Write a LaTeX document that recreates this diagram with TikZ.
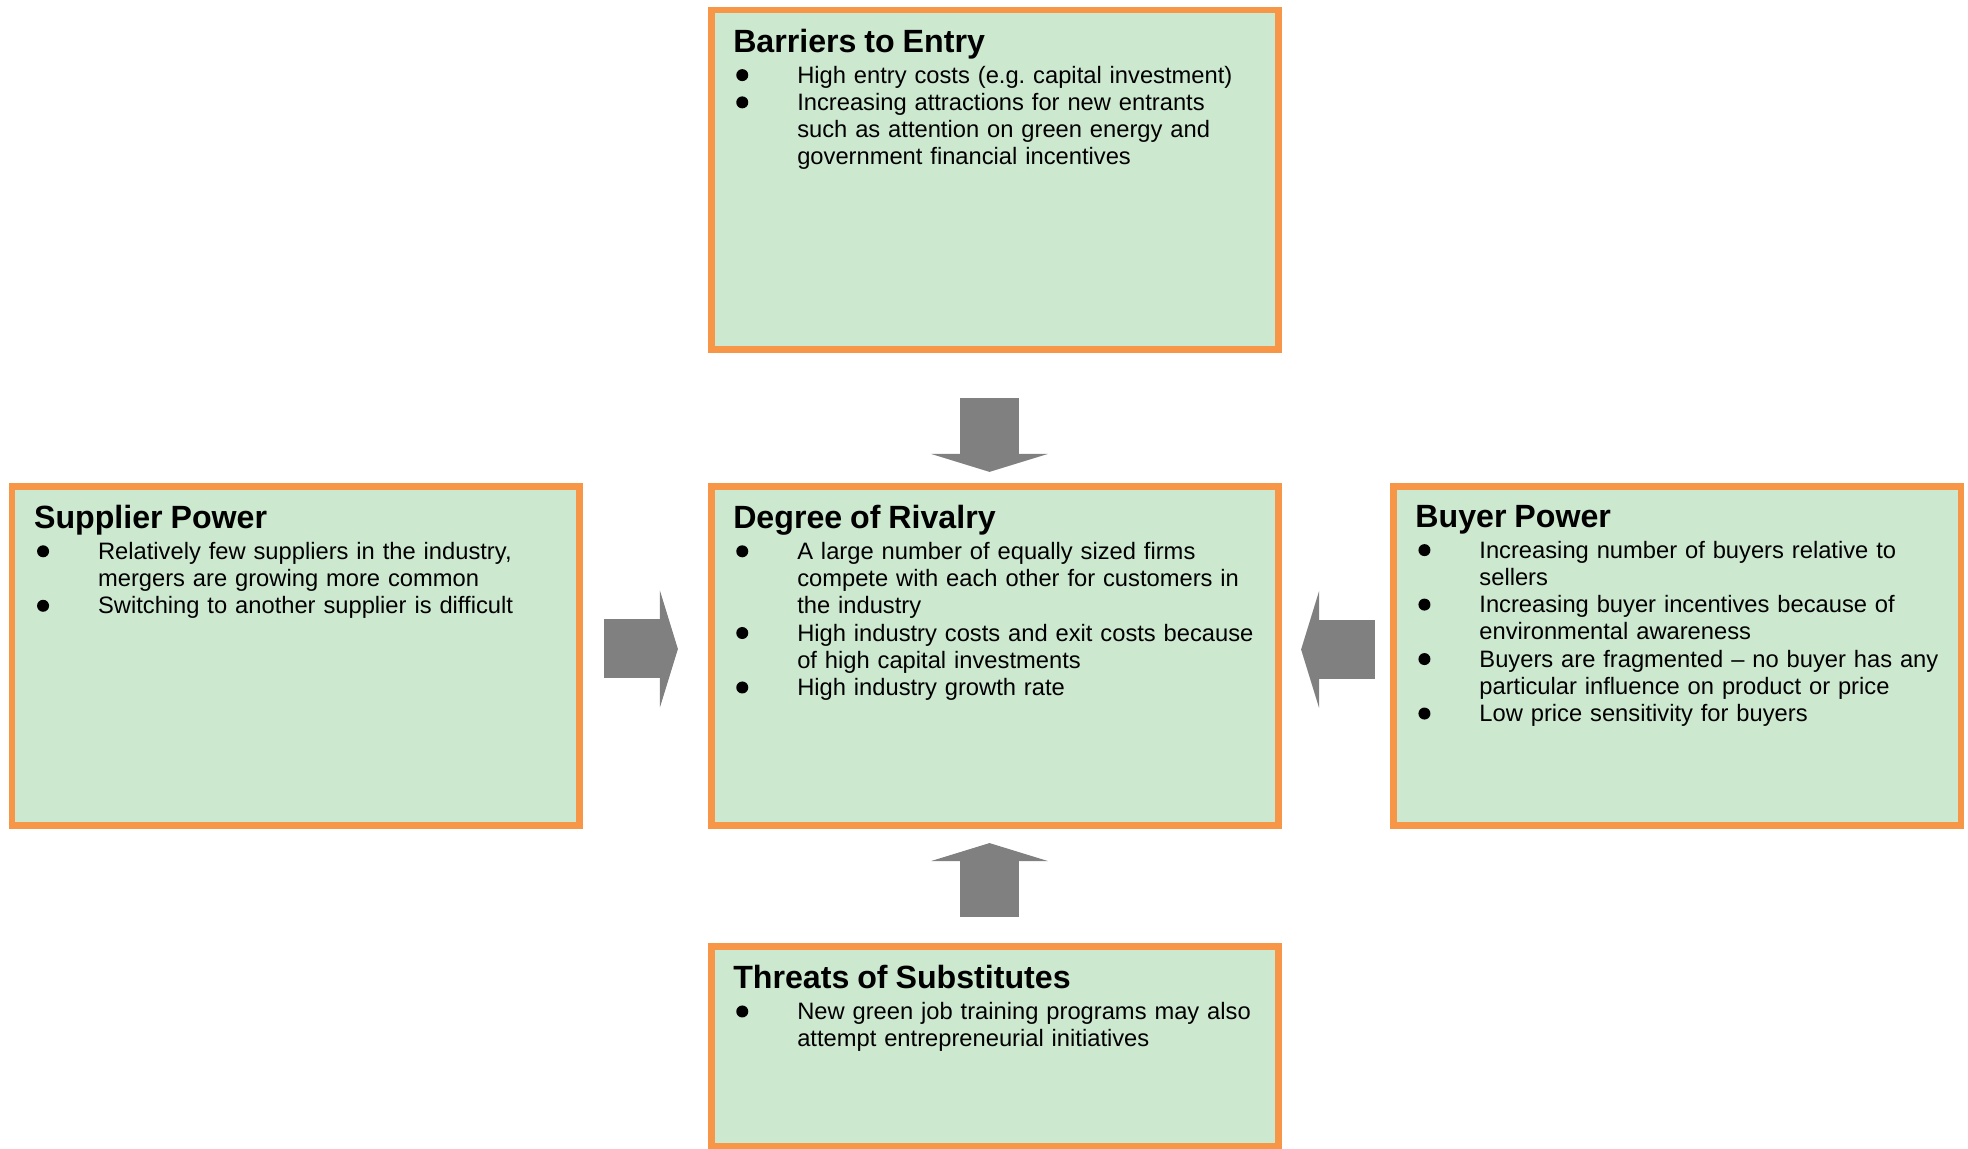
\documentclass[tikz,border=0pt]{standalone}
\usepackage{fontspec}
\setmainfont{Liberation Sans}
\usetikzlibrary{%
  arrows.meta,%
  positioning,% wg. " of "
  calc%
}
\definecolor{boxorange}{HTML}{F79646}
\definecolor{boxgreen}{HTML}{CCE8CF}
\definecolor{arrowgray}{HTML}{808080}
\newlength{\bulind}
\setlength{\bulind}{1.28cm}
\newcommand{\bigdot}{\tikz[baseline=0pt]\fill[black] (0,0.16) circle (0.12);}
\newcommand{\bul}[1]{\par\hangindent=\bulind\hangafter=1\noindent\makebox[\bulind][l]{\hspace{0.06cm}\bigdot}#1\par}
\newcommand{\headline}[1]{{\fontsize{18.3pt}{20pt}\selectfont\bfseries #1\par}\vspace{2pt}}

\begin{document}
\begin{tikzpicture}
[line width=0.75pt,
forcebox/.style={rectangle, draw=boxorange, fill=boxgreen, line width=3.8pt, inner sep=0pt, minimum width=11.35cm, minimum height=6.79cm},
forcetext/.style={anchor=north west, inner sep=0pt, text width=10.8cm, align=left, font=\fontsize{13.5pt}{15.5pt}\selectfont},
push/.style={draw=arrowgray, line width=1.18cm, -{Triangle[length=0.36cm, width=2.34cm, line width=0pt]}}]

\useasboundingbox (0,0) rectangle (39.36,22.98);

% the five forces
\node[forcebox] (rivalry) at (19.9,9.86) {};
\node[forcebox, left=2.5cm of rivalry] (supplier) {};
\node[forcebox, right=2.16cm of rivalry] (buyer) {};
\node[forcebox, above=2.6cm of rivalry] (entry) {};
\node[forcebox, below=2.28cm of rivalry, minimum height=3.99cm] (substitutes) {};

\node[forcetext] (entrytext) at ([shift={(0.5,-0.44)}]entry.north west) {%
  \headline{Barriers to Entry}
  \bul{High entry costs (e.g.\ capital investment)}
  \bul{Increasing attractions for new entrants\newline such as attention on green energy and\newline government financial incentives}};

\node[forcetext] (suppliertext) at ([shift={(0.5,-0.44)}]supplier.north west) {%
  \headline{Supplier Power}
  \bul{Relatively few suppliers in the industry,\newline mergers are growing more common}
  \bul{Switching to another supplier is difficult}};

\node[forcetext] (rivalrytext) at ([shift={(0.5,-0.44)}]rivalry.north west) {%
  \headline{Degree of Rivalry}
  \bul{A large number of equally sized firms\newline compete with each other for customers in\newline the industry}
  \bul{High industry costs and exit costs because\newline of high capital investments}
  \bul{High industry growth rate}};

\node[forcetext] (buyertext) at ([shift={(0.5,-0.44)}]buyer.north west) {%
  \headline{Buyer Power}
  \bul{Increasing number of buyers relative to\newline sellers}
  \bul{Increasing buyer incentives because of\newline environmental awareness}
  \bul{Buyers are fragmented -- no buyer has any\newline particular influence on product or price}
  \bul{Low price sensitivity for buyers}};

\node[forcetext] (substitutestext) at ([shift={(0.5,-0.44)}]substitutes.north west) {%
  \headline{Threats of Substitutes}
  \bul{New green job training programs may also\newline attempt entrepreneurial initiatives}};

% block arrows into the centre
\draw[push, shorten <=0.9cm, shorten >=0.22cm] ([xshift=-0.11cm]entry.south) -- ([xshift=-0.11cm]rivalry.north);
\draw[push, shorten <=0.52cm, shorten >=0.28cm] ([xshift=-0.11cm]substitutes.north) -- ([xshift=-0.11cm]rivalry.south);
\draw[push, shorten <=0.42cm, shorten >=0.6cm] ([yshift=0.14cm]supplier.east) -- ([yshift=0.14cm]rivalry.west);
\draw[push, shorten <=0.3cm, shorten >=0.38cm] ([yshift=0.13cm]buyer.west) -- ([yshift=0.13cm]rivalry.east);
\end{tikzpicture}
\end{document}
